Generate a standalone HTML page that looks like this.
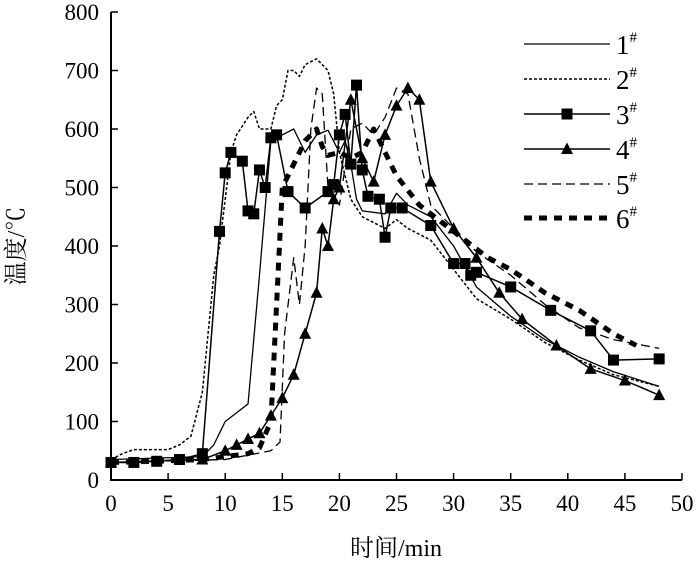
<!DOCTYPE html>
<html><head><meta charset="utf-8"><style>
html,body{margin:0;padding:0;background:#fff;}
svg{display:block;font-family:"Liberation Serif","Noto Serif CJK SC",serif;}
</style></head><body>
<svg id="chart" width="700" height="562" viewBox="0 0 700 562"></svg>
<script>
const xTicks=[0,5,10,15,20,25,30,35,40,45,50];
const yTicks=[0,100,200,300,400,500,600,700,800];
const seriesNames=["1","2","3","4","5","6"];
const s1x=[0,8,9,10,11,12,13,14,15,16,17,18,19,20,20.5,21,21.5,22,24,25,26,28,30,32,35,38,41,44,48];
const s1y=[35,40,60,100,115,130,350,580,590,600,560,590,598,560,580,540,480,460,455,490,470,450,400,330,280,240,210,185,160];
const s2x=[0,1,2,5,6,7,8,9,9.5,10,10.5,11,12,12.5,13,14,14.5,15,15.5,16,16.5,17,18,19,19.5,20,21,22,24,25,26,28,30,32,35,38,41,44,48];
const s2y=[35,45,52,52,60,75,150,350,400,480,560,590,620,630,600,600,640,650,700,700,690,710,720,700,660,560,480,450,430,445,430,410,360,310,275,235,205,180,160];
const s3x=[0,2,4,6,8,9.5,10,10.5,11.5,12,12.5,13,13.5,14,14.5,15.5,17,19,19.5,20,20.5,21,21.5,22,22.5,23.5,24,24.5,25.5,28,30,31,31.5,32,35,38.5,42,44,48];
const s3y=[30,30,32,35,45,425,525,560,545,460,455,530,500,585,590,493,465,493,505,590,625,540,675,530,485,480,415,465,465,435,370,370,350,355,330,290,255,205,207];
const s4x=[0,8,10,11,12,13,14,15,16,17,18,18.5,19,19.5,20,21,22,23,24,25,26,27,28,30,32,34,36,39,42,45,48];
const s4y=[30,35,50,60,70,80,110,140,180,250,320,430,400,480,500,650,550,510,590,640,670,650,510,430,380,320,275,230,190,170,145];
const s5x=[0,10,14,14.8,15.2,16,16.5,17,17.5,18,18.5,19,20,21,22,23,24,25,26,27,28,30,32,35,38,41,44,48];
const s5y=[30,35,50,65,250,380,300,400,600,670,660,500,470,600,610,590,620,670,660,550,470,430,390,350,300,260,240,225];
const s6x=[0,4,8,12,13,14,14.5,15,15.5,16,17,18,18.5,19,20,21,22,23,23.5,25,27,29,31,33,35,38,41,44,46];
const s6y=[30,32,35,45,55,100,300,500,520,540,580,600,570,555,560,550,560,600,580,520,470,440,410,380,360,320,290,250,230];

const NS="http://www.w3.org/2000/svg";
const svg=document.getElementById('chart');
const X0=111,X1=682,Y0=480,Y1=12;
const sx=v=>X0+(v-0)/(50-0)*(X1-X0);
const sy=v=>Y0-(v-0)/(800-0)*(Y0-Y1);
function mk(t,a,p){const e=document.createElementNS(NS,t);for(const k in a)e.setAttribute(k,a[k]);(p||svg).appendChild(e);return e;}

const axes=mk('g',{});


const ax=mk('path',{d:`M${X0} ${Y1} V${Y0} H${X1}`,stroke:'#000','stroke-width':2,fill:'none'},axes);


xTicks.forEach(v=>{
  const t=mk('line',{x1:sx(v),x2:sx(v),y1:Y0,y2:Y0-7,stroke:'#000','stroke-width':1.5},axes);
  
  
  const l=mk('text',{x:sx(v),y:Y0+31,'text-anchor':'middle','font-size':23},axes);
  l.textContent=v;
  
  
});
yTicks.forEach(v=>{
  const t=mk('line',{x1:X0,x2:X0+7,y1:sy(v),y2:sy(v),stroke:'#000','stroke-width':1.5},axes);
  
  
  const l=mk('text',{x:X0-12,y:sy(v)+8,'text-anchor':'end','font-size':23},axes);
  l.textContent=v;
  
  
});
const xt=mk('text',{x:396,y:556,'text-anchor':'middle','font-size':24});
xt.textContent='时间/min';


const yt=mk('text',{x:0,y:0,'text-anchor':'middle','font-size':24,transform:'translate(24,246) rotate(-90)'});
yt.textContent='温度/℃';



const styles=[
 {w:1.3,dash:null},
 {w:1.5,dash:'3,2'},
 {w:1.5,dash:null,marker:'sq'},
 {w:1.5,dash:null,marker:'tri'},
 {w:1.3,dash:'9,5'},
 {w:5,dash:'8,7'}
];
const data=[[s1x,s1y],[s2x,s2y],[s3x,s3y],[s4x,s4y],[s5x,s5y],[s6x,s6y]];
function marker(type,x,y,g){
  let m;
  if(type==='sq') m=mk('rect',{x:x-5.5,y:y-5.5,width:11,height:11,fill:'#000'},g);
  else m=mk('polygon',{points:`${x},${y-6.5} ${x-6},${y+5} ${x+6},${y+5}`,fill:'#000'},g);
  
  
}
data.forEach((d,i)=>{
  const g=mk('g',{});
  
  
  const pts=d[0].map((x,j)=>sx(x)+','+sy(d[1][j])).join(' ');
  const a={points:pts,fill:'none',stroke:'#000','stroke-width':styles[i].w,'stroke-linejoin':'round'};
  if(styles[i].dash)a['stroke-dasharray']=styles[i].dash;
  const p=mk('polyline',a,g);
  
  
  if(styles[i].marker) d[0].forEach((x,j)=>marker(styles[i].marker,sx(x),sy(d[1][j]),g));
});

const leg=mk('g',{});


const legY=[44,79,114,149,184,218];
seriesNames.forEach((n,i)=>{
  const g=mk('g',{},leg);
  
  
  const y=legY[i];
  const a={x1:524,x2:610,y1:y,y2:y,stroke:'#000','stroke-width':styles[i].w};
  if(styles[i].dash)a['stroke-dasharray']=styles[i].dash;
  mk('line',a,g);
  if(styles[i].marker)marker(styles[i].marker,567,y,g);
  const t=mk('text',{x:616,y:y+10,'font-size':27},g);
  t.textContent=n;
  const s=mk('tspan',{dy:-12,'font-size':15},t);
  s.textContent='#';
});
</script>
</body></html>
